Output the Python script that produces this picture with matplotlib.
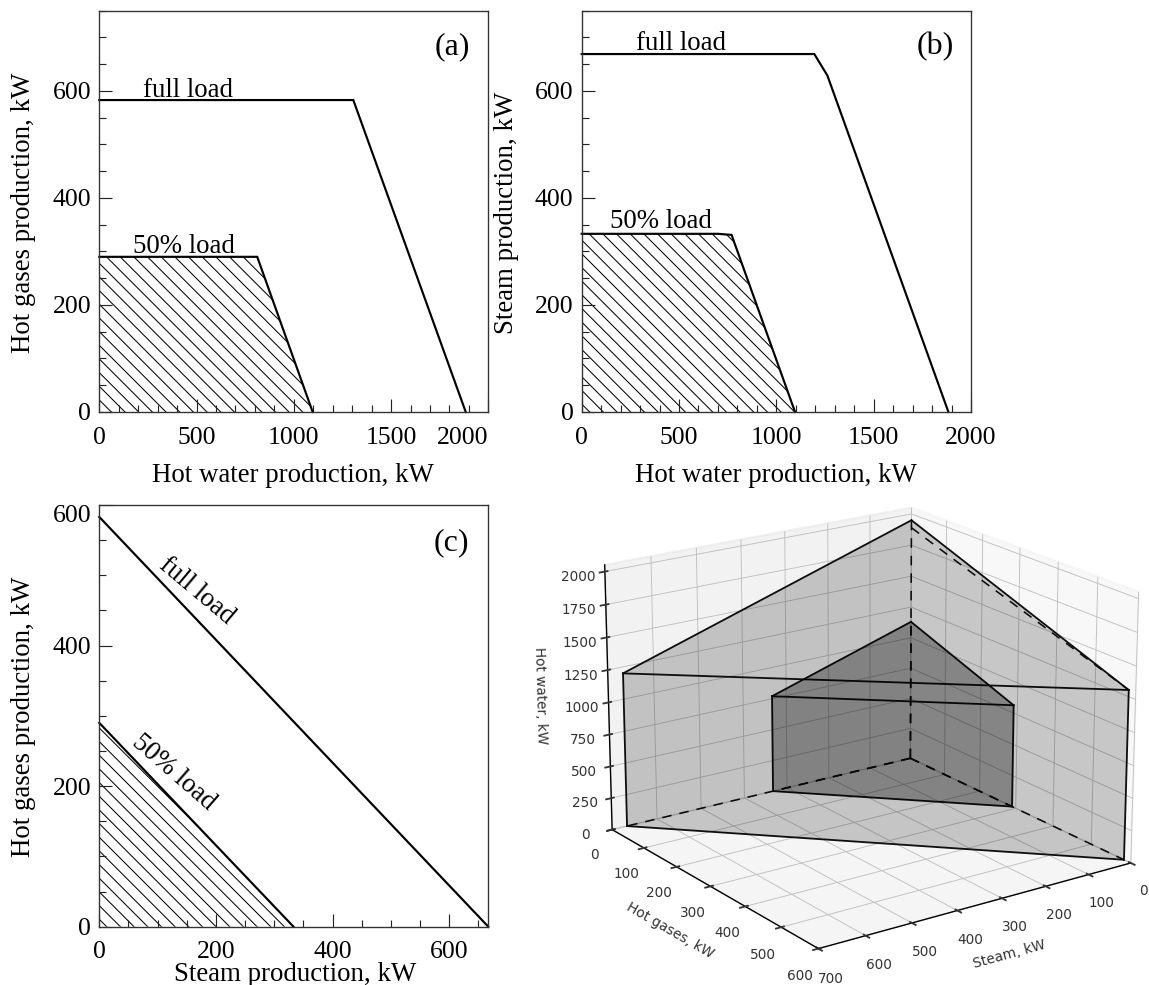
import matplotlib
matplotlib.use("Agg")
import matplotlib.pyplot as plt
from matplotlib.ticker import MultipleLocator
from mpl_toolkits.mplot3d.art3d import Poly3DCollection

W, H, DPI = 1149, 985, 164
plt.rcParams.update({
    "font.family": ["Liberation Serif", "DejaVu Serif"],
    "font.size": 11.3,
    "axes.labelsize": 11.8,
    "hatch.linewidth": 0.45,
    "axes.linewidth": 0.6,
})

# panel (a)
a_full_x = [0, 1306, 1884]
a_full_y = [583, 583, 0]
a_half_x = [0, 812, 1097]
a_half_y = [290, 290, 0]
# panel (b)
b_full_x = [0, 1195, 1262, 1884]
b_full_y = [669, 669, 629, 0]
b_half_x = [0, 700, 770, 1096]
b_half_y = [333, 333, 331, 0]
# panel (c)
c_full_x = [0, 667]
c_full_y = [583, 0]
c_half_x = [0, 333]
c_half_y = [290, 0]
# panel 3D: steam, hot gases, hot water at the three corners
steam_full = 667
gases_full = 583
water_full = [1950, 1200, 1300]   # origin, steam corner, gases corner
water_back_dash = 1890
steam_half = 333
gases_half = 290
water_half = [1130, 770, 812]


def px_rect(l, t, r, b):
    return [l / W, 1 - b / H, (r - l) / W, (b - t) / H]


def style(ax, xlim, ylim, xmaj, xmin, ymaj, ymin):
    ax.set_xlim(*xlim)
    ax.set_ylim(*ylim)
    ax.xaxis.set_major_locator(MultipleLocator(xmaj))
    ax.xaxis.set_minor_locator(MultipleLocator(xmin))
    ax.yaxis.set_major_locator(MultipleLocator(ymaj))
    ax.yaxis.set_minor_locator(MultipleLocator(ymin))
    ax.tick_params(which="major", direction="in", length=5.6, width=0.5, color="#222222")
    ax.tick_params(which="minor", direction="in", length=3.0, width=0.5, color="#222222")
    ax.tick_params(axis="x", which="major", pad=6.4)
    ax.tick_params(axis="y", which="major", pad=3.6)
    for s in ax.spines.values():
        s.set_color("#333333")


def curves(ax, fx, fy, hx, hy):
    ax.fill(hx + [0], hy + [0], facecolor="none", edgecolor="k", linewidth=0,
            hatch="\\\\\\\\")
    ax.plot(fx, fy, color="k", lw=0.95, solid_joinstyle="miter", clip_on=False)
    ax.plot(hx, hy, color="k", lw=0.95, solid_joinstyle="miter", clip_on=False)


def labels(ax, xl, yl, xly, xlx=0.5):
    ax.set_xlabel(xl, va="baseline")
    ax.xaxis.set_label_coords(xlx, xly)
    ax.set_ylabel(yl, va="baseline")
    ax.yaxis.set_label_coords(-0.177, 0.497)


TXT = 11.8
TAG = 14

fig = plt.figure(figsize=(W / DPI, H / DPI), dpi=DPI)

# 3D first so that the flat panels' labels sit above it
ax3 = fig.add_axes(px_rect(503.5, 428.5, 1216.5, 1015.5), projection="3d")
ax3.patch.set_alpha(0)
ax3.view_init(elev=19, azim=55)
ax3.set_xlim(0, 700)
ax3.set_ylim(0, 600)
ax3.set_zlim(0, 2050)


def prism(sx, gy, wz, fc_alpha):
    o, s, g = (0, 0), (sx, 0), (0, gy)
    b = [(p[0], p[1], 0) for p in (o, s, g)]
    t = [(p[0], p[1], z) for p, z in zip((o, s, g), wz)]
    faces = [b, t,
             [b[0], b[1], t[1], t[0]],
             [b[0], b[2], t[2], t[0]],
             [b[1], b[2], t[2], t[1]]]
    coll = Poly3DCollection(faces, facecolor=(0, 0, 0, fc_alpha), edgecolor="none")
    ax3.add_collection3d(coll)
    solid = [(b[1], b[2]), (t[1], t[2]), (t[0], t[1]), (t[0], t[2]), (b[1], t[1]), (b[2], t[2])]
    for p, q in solid:
        ax3.plot(*zip(p, q), color="#111111", lw=0.8)
    dashed = [(b[0], b[1]), (b[0], b[2]), (b[0], t[0])]
    for p, q in dashed:
        ax3.plot(*zip(p, q), color="#111111", lw=0.7, ls=(0, (6, 5)))


prism(steam_full, gases_full, water_full, 0.10)
prism(steam_half, gases_half, water_half, 0.18)
ax3.plot([0, 0], [0, gases_full], [water_back_dash, water_full[2]], color="#111111", lw=0.7,
         ls=(0, (6, 5)))

ax3.set_xticks(range(0, 701, 100))
ax3.set_yticks(range(0, 601, 100))
ax3.set_zticks(range(0, 2001, 250))
ax3.tick_params(labelsize=6, pad=-0.5, width=0.4, length=2, colors="#333333")
ax3.tick_params(axis="z", pad=-1)
ax3.set_xlabel("Steam, kW", fontsize=6, family="DejaVu Sans", labelpad=-4, color="#333333")
ax3.set_ylabel("Hot gases, kW", fontsize=6, family="DejaVu Sans", labelpad=-4, color="#333333")
ax3.set_zlabel("Hot water, kW", fontsize=6, family="DejaVu Sans", labelpad=-3, color="#333333")
for t in ax3.get_xticklabels() + ax3.get_yticklabels() + ax3.get_zticklabels():
    t.set_family("DejaVu Sans")
for a in (ax3.xaxis, ax3.yaxis, ax3.zaxis):
    a._axinfo["grid"]["linewidth"] = 0.4
    a._axinfo["grid"]["color"] = "#c0c0c0"
    a._axinfo["axisline"]["linewidth"] = 0.5

# (a)
ax = fig.add_axes(px_rect(99.3, 10.7, 488.3, 412))
style(ax, (0, 2000), (0, 750), 500, 100, 200, 50)
curves(ax, a_full_x, a_full_y, a_half_x, a_half_y)
labels(ax, "Hot water production, kW", "Hot gases production, kW", -0.175, 0.498)
ax.text(456, 588, "full load", ha="center", va="baseline", fontsize=TXT)
ax.text(436, 297, "50% load", ha="center", va="baseline", fontsize=TXT)
ax.text(1813, 668, "(a)", ha="center", va="baseline", fontsize=TAG)
fig.canvas.draw()
for t in ax.get_xticklabels():
    if t.get_text() == "2000":
        t.set_ha("right")

# (b)
ax = fig.add_axes(px_rect(581.7, 10.7, 971, 412))
style(ax, (0, 2000), (0, 750), 500, 100, 200, 50)
curves(ax, b_full_x, b_full_y, b_half_x, b_half_y)
labels(ax, "Hot water production, kW", "Steam production, kW", -0.175)
ax.text(508, 677, "full load", ha="center", va="baseline", fontsize=TXT)
ax.text(408, 344, "50% load", ha="center", va="baseline", fontsize=TXT)
ax.text(1816, 668, "(b)", ha="center", va="baseline", fontsize=TAG)

# (c)
ax = fig.add_axes(px_rect(99.3, 505, 488.3, 926.7))
style(ax, (0, 667), (0, 600), 200, 50, 200, 50)
curves(ax, c_full_x, c_full_y, c_half_x, c_half_y)
labels(ax, "Steam production, kW", "Hot gases production, kW", -0.1285, 0.503)
ax.text(604, 535, "(c)", ha="center", va="baseline", fontsize=TAG)
ax.text(167, 478, "full load", ha="center", va="center", rotation=-40,
        rotation_mode="anchor", fontsize=TXT)
ax.text(127, 220, "50% load", ha="center", va="center", rotation=-41,
        rotation_mode="anchor", fontsize=TXT)
fig.canvas.draw()
for t in ax.get_yticklabels():
    if t.get_text() == "600":
        t.set_va("top")

fig.savefig("out.png", dpi=DPI)
